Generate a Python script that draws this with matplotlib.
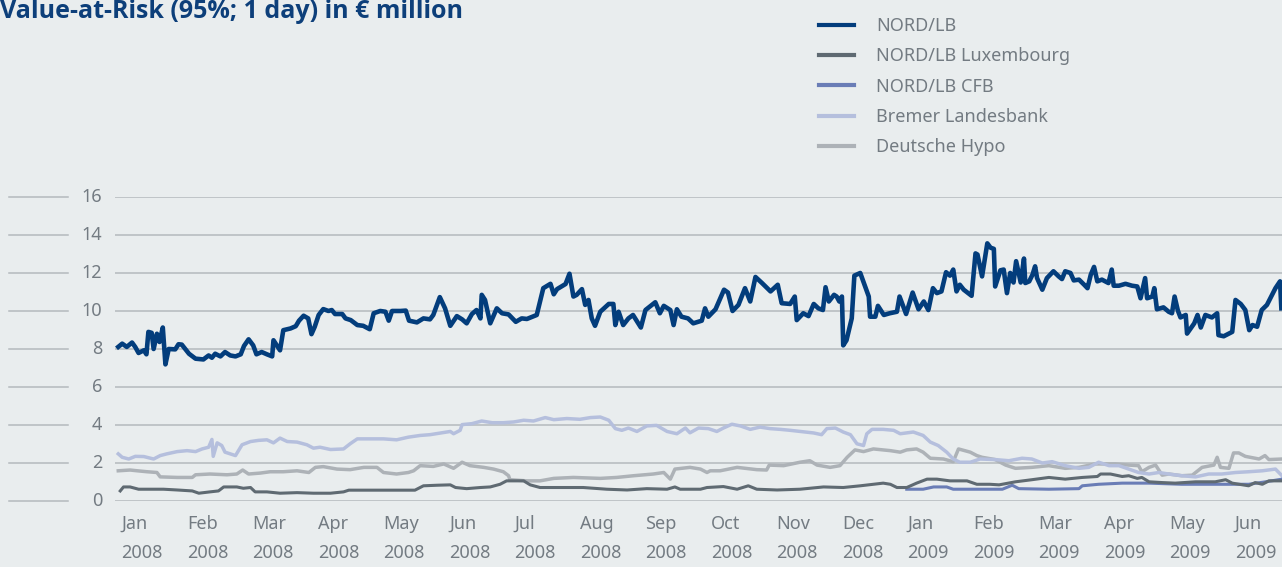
import matplotlib
matplotlib.use("Agg")
import matplotlib.pyplot as plt

# x positions are in months counted from 1 Jan 2008
nord_x = [0.0, 0.06, 0.13, 0.21, 0.26, 0.31, 0.39, 0.43, 0.46, 0.51, 0.54, 0.59, 0.63, 0.68, 0.72, 0.77,
          0.87, 0.92, 0.97, 1.08, 1.18, 1.30, 1.38, 1.43, 1.48, 1.56, 1.63, 1.71, 1.79, 1.87, 1.92, 1.99,
          2.06, 2.11, 2.19, 2.27, 2.35, 2.37, 2.42, 2.47, 2.52, 2.63, 2.71, 2.76, 2.83, 2.90, 2.95, 3.00,
          3.06, 3.13, 3.21, 3.26, 3.31, 3.42, 3.47, 3.55, 3.65, 3.74, 3.84, 3.90, 4.00, 4.08, 4.13, 4.18,
          4.31, 4.39, 4.44, 4.56, 4.66, 4.76, 4.81, 4.91, 4.99, 5.07, 5.17, 5.25, 5.32, 5.40, 5.47, 5.53,
          5.55, 5.60, 5.68, 5.78, 5.86, 5.96, 6.07, 6.16, 6.24, 6.39, 6.49, 6.60, 6.65, 6.70, 6.83, 6.89,
          6.95, 7.00, 7.08, 7.13, 7.18, 7.23, 7.28, 7.36, 7.49, 7.56, 7.59, 7.64, 7.71, 7.79, 7.86, 7.98,
          8.05, 8.20, 8.27, 8.33, 8.43, 8.48, 8.53, 8.60, 8.70, 8.78, 8.91, 8.96, 9.01, 9.12, 9.25, 9.31,
          9.38, 9.47, 9.57, 9.65, 9.73, 9.83, 9.96, 10.07, 10.13, 10.26, 10.33, 10.36, 10.46, 10.54, 10.62,
          10.69, 10.76, 10.80, 10.85, 10.93, 10.97, 11.01, 11.05, 11.07, 11.12, 11.20, 11.24, 11.33, 11.46,
          11.48, 11.56, 11.60, 11.69, 11.78, 11.89, 11.93, 12.03, 12.13, 12.22, 12.30, 12.37, 12.44, 12.50,
          12.57, 12.64, 12.70, 12.75, 12.80, 12.85, 12.91, 13.03, 13.09, 13.12, 13.19, 13.27, 13.32, 13.37,
          13.39, 13.47, 13.52, 13.57, 13.62, 13.67, 13.71, 13.78, 13.83, 13.85, 13.91, 13.96, 14.00, 14.03,
          14.11, 14.18, 14.28, 14.36, 14.41, 14.46, 14.54, 14.59, 14.67, 14.75, 14.80, 14.85, 14.90, 14.95,
          15.02, 15.12, 15.17, 15.20, 15.28, 15.38, 15.48, 15.56, 15.61, 15.68, 15.71, 15.79, 15.82, 15.86,
          15.96, 16.04, 16.09, 16.13, 16.18, 16.22, 16.30, 16.32, 16.43, 16.48, 16.53, 16.60, 16.70, 16.78,
          16.80, 16.88, 17.01, 17.06, 17.14, 17.21, 17.27, 17.32, 17.39, 17.46, 17.54, 17.67, 17.74, 17.76]
nord_y = [8.11, 8.28, 8.11, 8.34, 8.10, 7.79, 7.93, 7.72, 8.90, 8.85, 8.00, 8.80, 8.37, 9.13, 7.19, 8.00,
          7.98, 8.25, 8.23, 7.75, 7.49, 7.45, 7.66, 7.54, 7.75, 7.61, 7.84, 7.66, 7.61, 7.72, 8.16, 8.51,
          8.19, 7.72, 7.84, 7.72, 7.61, 8.46, 8.19, 7.93, 8.99, 9.08, 9.20, 9.49, 9.75, 9.61, 8.78, 9.17,
          9.79, 10.10, 10.00, 10.05, 9.84, 9.84, 9.61, 9.52, 9.26, 9.22, 9.04, 9.88, 10.00, 9.96, 9.49, 10.00,
          10.00, 10.02, 9.49, 9.40, 9.61, 9.56, 9.79, 10.73, 10.14, 9.22, 9.73, 9.56, 9.35, 9.84, 10.05, 9.61,
          10.85, 10.58, 9.35, 10.14, 9.88, 9.82, 9.43, 9.61, 9.58, 9.79, 11.20, 11.43, 10.88, 11.15, 11.42, 11.96,
          10.76, 10.85, 11.15, 10.32, 10.58, 9.61, 9.22, 9.96, 10.37, 10.37, 9.26, 9.96, 9.26, 9.61, 9.79, 9.13,
          10.05, 10.46, 9.88, 10.27, 10.05, 9.26, 10.09, 9.70, 9.61, 9.35, 9.49, 10.14, 9.70, 10.09, 11.12, 10.97,
          10.00, 10.32, 11.20, 10.50, 11.79, 11.47, 11.03, 11.38, 10.41, 10.37, 10.76, 9.52, 9.88, 9.73, 10.37,
          10.14, 10.05, 11.25, 10.50, 10.85, 10.76, 10.50, 10.76, 8.19, 8.46, 9.61, 11.86, 12.00, 10.76,
          9.70, 9.70, 10.27, 9.79, 9.88, 9.96, 10.76, 9.84, 10.97, 10.09, 10.50, 10.05, 11.20, 10.94,
          11.03, 12.04, 11.86, 12.18, 11.03, 11.38, 11.12, 10.80, 13.03, 12.97, 11.82, 13.56, 13.33, 13.27,
          11.29, 12.14, 12.18, 10.94, 12.00, 11.50, 12.62, 11.50, 12.76, 11.47, 11.56, 11.91, 12.35, 11.73,
          11.12, 11.73, 12.09, 11.82, 11.68, 12.09, 12.00, 11.61, 11.65, 11.38, 11.20, 11.91, 12.32, 11.56,
          11.65, 11.47, 12.18, 11.33, 11.33, 11.43, 11.33, 11.29, 10.67, 11.73, 10.67, 10.76, 11.20, 10.09,
          10.19, 9.96, 9.88, 10.76, 10.02, 9.66, 9.79, 8.81, 9.35, 9.79, 9.13, 9.79, 9.66, 9.88,
          8.73, 8.67, 8.90, 10.58, 10.37, 10.05, 8.99, 9.26, 9.17, 10.05, 10.32, 11.20, 11.56, 10.14]

lux_x = [0.03, 0.08, 0.18, 0.31, 0.54, 0.69, 0.90, 1.13, 1.23, 1.40, 1.53, 1.61, 1.81, 1.91, 2.02, 2.09,
         2.27, 2.47, 2.73, 2.98, 3.24, 3.44, 3.52, 4.31, 4.53, 4.66, 4.87, 5.07, 5.15, 5.32, 5.53, 5.68,
         5.83, 5.93, 6.19, 6.29, 6.44, 6.75, 7.10, 7.46, 7.77, 8.07, 8.38, 8.50, 8.58, 8.89, 8.99, 9.24,
         9.45, 9.62, 9.75, 10.06, 10.41, 10.77, 11.07, 11.33, 11.68, 11.79, 11.89, 12.04, 12.19, 12.35,
         12.50, 12.70, 12.96, 13.11, 13.31, 13.45, 13.70, 13.95, 14.21, 14.46, 14.72, 14.95, 15.00, 15.15,
         15.33, 15.43, 15.56, 15.63, 15.74, 15.94, 16.14, 16.45, 16.75, 16.91, 17.01, 17.26, 17.36, 17.47,
         17.57, 17.77]
lux_y = [0.53, 0.74, 0.74, 0.62, 0.62, 0.62, 0.58, 0.53, 0.41, 0.48, 0.53, 0.74, 0.74, 0.67, 0.71, 0.48,
         0.48, 0.41, 0.44, 0.41, 0.41, 0.48, 0.57, 0.57, 0.57, 0.80, 0.83, 0.85, 0.71, 0.65, 0.71, 0.74,
         0.88, 1.06, 1.06, 0.85, 0.71, 0.71, 0.71, 0.62, 0.58, 0.65, 0.62, 0.74, 0.62, 0.62, 0.71, 0.76,
         0.62, 0.80, 0.62, 0.58, 0.62, 0.74, 0.71, 0.80, 0.94, 0.88, 0.71, 0.71, 0.94, 1.15,
         1.15, 1.06, 1.06, 0.88, 0.88, 0.85, 1.01, 1.12, 1.24, 1.15, 1.24, 1.29, 1.42, 1.42,
         1.29, 1.33, 1.19, 1.24, 1.01, 0.97, 0.94, 1.01, 1.01, 1.12, 0.94, 0.80, 0.97, 0.88,
         1.06, 1.06]

cfb_x = [12.04, 12.29, 12.45, 12.65, 12.75, 13.31, 13.50, 13.65, 13.75, 14.21, 14.67, 14.72, 14.97,
         15.33, 15.74, 16.24, 16.75, 17.26, 17.52, 17.77]
cfb_y = [0.62, 0.62, 0.74, 0.74, 0.62, 0.62, 0.62, 0.83, 0.65, 0.62, 0.65, 0.80, 0.88,
         0.94, 0.94, 0.88, 0.88, 0.88, 1.01, 1.15]

bremen_x = [0.0, 0.06, 0.16, 0.26, 0.39, 0.54, 0.64, 0.74, 0.90, 1.05, 1.18, 1.28, 1.38, 1.43, 1.45, 1.51,
            1.58, 1.63, 1.79, 1.89, 2.02, 2.14, 2.27, 2.37, 2.47, 2.58, 2.73, 2.88, 2.98, 3.08, 3.24, 3.44,
            3.54, 3.65, 3.85, 4.05, 4.25, 4.43, 4.61, 4.76, 4.92, 5.07, 5.12, 5.22, 5.25, 5.40, 5.55, 5.71,
            5.88, 6.04, 6.19, 6.34, 6.52, 6.65, 6.85, 7.05, 7.21, 7.36, 7.49, 7.59, 7.69, 7.79, 7.92, 8.07,
            8.22, 8.38, 8.53, 8.66, 8.73, 8.86, 9.01, 9.14, 9.24, 9.37, 9.50, 9.65, 9.80, 9.95, 10.11, 10.26,
            10.41, 10.62, 10.74, 10.82, 10.95, 11.07, 11.18, 11.28, 11.38, 11.43, 11.51, 11.68, 11.84, 11.94,
            12.14, 12.29, 12.40, 12.52, 12.65, 12.75, 12.85, 13.01, 13.16, 13.39, 13.60, 13.80, 13.95, 14.11,
            14.26, 14.46, 14.67, 14.82, 14.97, 15.13, 15.28, 15.43, 15.58, 15.74, 15.89, 16.04, 16.24, 16.45,
            16.65, 16.85, 17.06, 17.26, 17.47, 17.67, 17.77]
bremen_y = [2.48, 2.30, 2.21, 2.35, 2.34, 2.21, 2.39, 2.48, 2.60, 2.65, 2.60, 2.74, 2.83, 3.24, 2.35, 3.06,
            2.92, 2.57, 2.39, 2.96, 3.13, 3.19, 3.22, 3.06, 3.31, 3.13, 3.10, 2.96, 2.78, 2.83, 2.71, 2.74,
            3.01, 3.27, 3.27, 3.27, 3.22, 3.36, 3.45, 3.49, 3.58, 3.66, 3.54, 3.72, 4.02, 4.07, 4.21, 4.12,
            4.12, 4.16, 4.25, 4.21, 4.39, 4.28, 4.34, 4.30, 4.39, 4.42, 4.25, 3.81, 3.72, 3.84, 3.66, 3.95,
            3.98, 3.66, 3.54, 3.84, 3.59, 3.84, 3.81, 3.66, 3.84, 4.04, 3.95, 3.77, 3.89, 3.81, 3.77, 3.72,
            3.66, 3.58, 3.49, 3.81, 3.84, 3.63, 3.49, 3.01, 2.92, 3.54, 3.77, 3.77, 3.72, 3.54,
            3.63, 3.45, 3.10, 2.92, 2.57, 2.21, 2.04, 2.04, 2.21, 2.18, 2.12, 2.25, 2.21, 2.00,
            2.07, 1.86, 1.72, 1.77, 2.04, 1.86, 1.86, 1.68, 1.50, 1.42, 1.50, 1.42, 1.33, 1.27,
            1.42, 1.42, 1.50, 1.54, 1.59, 1.68, 1.33]

hypo_x = [0.0, 0.18, 0.29, 0.44, 0.59, 0.64, 0.90, 1.13, 1.18, 1.40, 1.66, 1.81, 1.90, 1.99, 2.17, 2.32,
          2.52, 2.73, 2.91, 3.01, 3.13, 3.34, 3.54, 3.75, 3.95, 4.05, 4.25, 4.43, 4.51, 4.61, 4.81, 4.97,
          5.12, 5.25, 5.37, 5.58, 5.73, 5.88, 5.96, 5.98, 6.24, 6.44, 6.65, 6.95, 7.36, 7.61, 7.87, 8.17,
          8.33, 8.43, 8.50, 8.73, 8.89, 8.99, 9.04, 9.19, 9.45, 9.75, 9.90, 9.94, 10.16, 10.41, 10.56, 10.67,
          10.87, 11.02, 11.13, 11.25, 11.38, 11.53, 11.79, 11.94, 12.04, 12.19, 12.29, 12.40, 12.60, 12.75,
          12.83, 13.01, 13.11, 13.19, 13.39, 13.55, 13.70, 13.95, 14.21, 14.46, 14.67, 14.92, 15.23, 15.43,
          15.58, 15.63, 15.74, 15.84, 15.94, 16.04, 16.24, 16.40, 16.55, 16.73, 16.78, 16.83, 16.96, 17.03,
          17.11, 17.21, 17.42, 17.51, 17.57, 17.77]
hypo_y = [1.59, 1.63, 1.59, 1.54, 1.50, 1.27, 1.24, 1.24, 1.38, 1.42, 1.38, 1.42, 1.63, 1.42, 1.47, 1.54,
          1.54, 1.59, 1.50, 1.77, 1.81, 1.68, 1.65, 1.77, 1.77, 1.50, 1.42, 1.50, 1.59, 1.86, 1.82, 1.95,
          1.72, 2.04, 1.86, 1.77, 1.68, 1.54, 1.33, 1.12, 1.06, 1.06, 1.19, 1.24, 1.19, 1.24, 1.33, 1.42,
          1.50, 1.15, 1.68, 1.77, 1.68, 1.50, 1.59, 1.59, 1.77, 1.65, 1.63, 1.89, 1.86, 2.04, 2.12, 1.89,
          1.77, 1.86, 2.30, 2.69, 2.60, 2.74, 2.65, 2.57, 2.69, 2.74, 2.57, 2.25, 2.21, 2.07,
          2.74, 2.57, 2.39, 2.30, 2.18, 1.89, 1.72, 1.77, 1.86, 1.72, 1.77, 1.95, 1.95, 1.89,
          1.86, 1.54, 1.77, 1.89, 1.36, 1.42, 1.33, 1.36, 1.77, 1.89, 2.30, 1.77, 1.72, 2.53,
          2.53, 2.35, 2.21, 2.39, 2.18, 2.21]

months = ["Jan", "Feb", "Mar", "Apr", "May", "Jun", "Jul", "Aug", "Sep", "Oct", "Nov", "Dec",
          "Jan", "Feb", "Mar", "Apr", "May", "Jun"]
years = ["2008"] * 12 + ["2009"] * 6
yticks = [0, 2, 4, 6, 8, 10, 12, 14, 16]

BG = "#e9edee"
GRID = "#b4b9bd"
TXT = "#737b82"
plt.rcParams["font.family"] = ["Noto Sans", "DejaVu Sans"]

fig = plt.figure(figsize=(12.82, 5.67), dpi=100, facecolor=BG)
ax = fig.add_axes([0.0897, 0.1164, 0.9103, 0.5362], facecolor=BG)

ax.plot(hypo_x, hypo_y, color="#adb2b7", lw=2.5, label="Deutsche Hypo", zorder=3)
ax.plot(bremen_x, bremen_y, color="#b5bfdd", lw=2.5, label="Bremer Landesbank", zorder=4)
ax.plot(cfb_x, cfb_y, color="#6a7db6", lw=2.2, label="NORD/LB CFB", zorder=5)
ax.plot(lux_x, lux_y, color="#5f6a72", lw=2.2, label="NORD/LB Luxembourg", zorder=6)
ax.plot(nord_x, nord_y, color="#033d7c", lw=3.3, label="NORD/LB", zorder=7, solid_joinstyle="round")

ax.set_xlim(-0.05, 17.77)
ax.set_ylim(0, 16)
for s in ax.spines.values():
    s.set_visible(False)
ax.set_xticks([]); ax.set_yticks([])

ytr = ax.get_yaxis_transform()
for v in yticks:
    ax.axhline(v, color=GRID, lw=1.1, zorder=1)
    ax.plot([-0.0908, -0.0403], [v, v], color=GRID, lw=1.1, transform=ytr, clip_on=False)
    ax.text(-0.011, v, str(v), transform=ytr, ha="right", va="center", fontsize=13, color=TXT)

xtr = ax.get_xaxis_transform()
for i, (m, yr) in enumerate(zip(months, years)):
    ax.text(i + 0.05, -0.075, m, transform=xtr, ha="left", va="center", fontsize=13, color=TXT)
    ax.text(i + 0.05, -0.172, yr, transform=xtr, ha="left", va="center", fontsize=13, color=TXT)

fig.text(0.0, 0.968, "Value-at-Risk (95%; 1 day) in € million", ha="left", va="baseline",
         fontsize=18, fontweight="bold", color="#0d3f7a", family=["Open Sans", "DejaVu Sans"])

h, l = ax.get_legend_handles_labels()
leg = fig.legend(h[::-1], l[::-1], loc="upper left", bbox_to_anchor=(0.639, 0.97),
                 frameon=False, fontsize=13, handlelength=1.9, handletextpad=1.25,
                 labelspacing=0.68, borderpad=0, borderaxespad=0)
for t in leg.get_texts():
    t.set_color(TXT)
for ln in leg.get_lines():
    ln.set_linewidth(3)

fig.savefig("out.png", dpi=100, facecolor=BG)
